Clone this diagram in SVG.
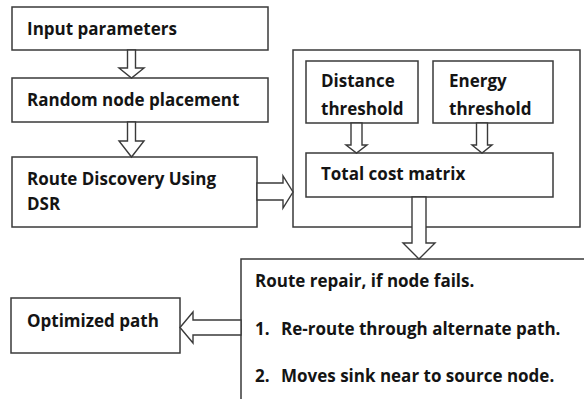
<svg xmlns="http://www.w3.org/2000/svg" width="584" height="399" viewBox="0 0 584 399">
<style>
.box{fill:#fff;stroke:#3a3a3a;stroke-width:1.5}
.arr{fill:#fff;stroke:#3a3a3a;stroke-width:1.4;stroke-linejoin:miter}
.t{font-family:"Open Sans","Liberation Sans",sans-serif;font-weight:700;font-size:17px;fill:#141414}
</style>
<rect width="584" height="399" fill="#fff"/>
<g id="n_input"><rect class="box" x="12" y="7" width="256" height="43"/><text class="t" x="27" y="35">Input parameters</text></g>
<g id="n_random"><rect class="box" x="12" y="78" width="256" height="44"/><text class="t" x="27" y="106">Random node placement</text></g>
<g id="n_route"><rect class="box" x="12" y="157" width="245" height="70"/><text class="t" x="27" y="185">Route Discovery Using</text><text class="t" x="27" y="210">DSR</text></g>
<g id="n_container"><rect class="box" x="293" y="50" width="287" height="177"/></g>
<g id="n_distance"><rect class="box" x="306" y="61" width="112" height="62"/><text class="t" x="321" y="87">Distance</text><text class="t" x="321" y="115">threshold</text></g>
<g id="n_energy"><rect class="box" x="433" y="61" width="120" height="62"/><text class="t" x="449" y="87">Energy</text><text class="t" x="449" y="115">threshold</text></g>
<g id="n_total"><rect class="box" x="306" y="153" width="247" height="44"/><text class="t" x="321" y="180">Total cost matrix</text></g>
<g id="n_repair"><rect class="box" x="241" y="259" width="360" height="160"/><text class="t" x="255" y="287">Route repair, if node fails.</text><text class="t" x="255" y="335">1.</text><text class="t" x="281" y="335">Re-route through alternate path.</text><text class="t" x="255" y="382">2.</text><text class="t" x="281" y="382">Moves sink near to source node.</text></g>
<g id="n_opt"><rect class="box" x="11" y="298" width="169" height="55"/><text class="t" x="27" y="327">Optimized path</text></g>
<g id="connectors">
<polygon class="arr" points="127.5,50 135.5,50 135.5,68 144,68 131.5,78 119,68 127.5,68"/>
<polygon class="arr" points="127.5,122 135.5,122 135.5,141 144,141 131.5,157 119,141 127.5,141"/>
<polygon class="arr" points="257,183 283,183 283,176 293,192 283,208 283,200 257,200"/>
<polygon class="arr" points="351,123 362,123 362,145 367,145 356.5,153 346,145 351,145"/>
<polygon class="arr" points="476.5,123 487.5,123 487.5,145 492,145 482,153 472,145 476.5,145"/>
<polygon class="arr" points="412,197 426,197 426,243 435,243 419,259 403,243 412,243"/>
<polygon class="arr" points="241,320 193,320 193,312 180,327.5 193,343 193,335 241,335"/>
</g>
</svg>
